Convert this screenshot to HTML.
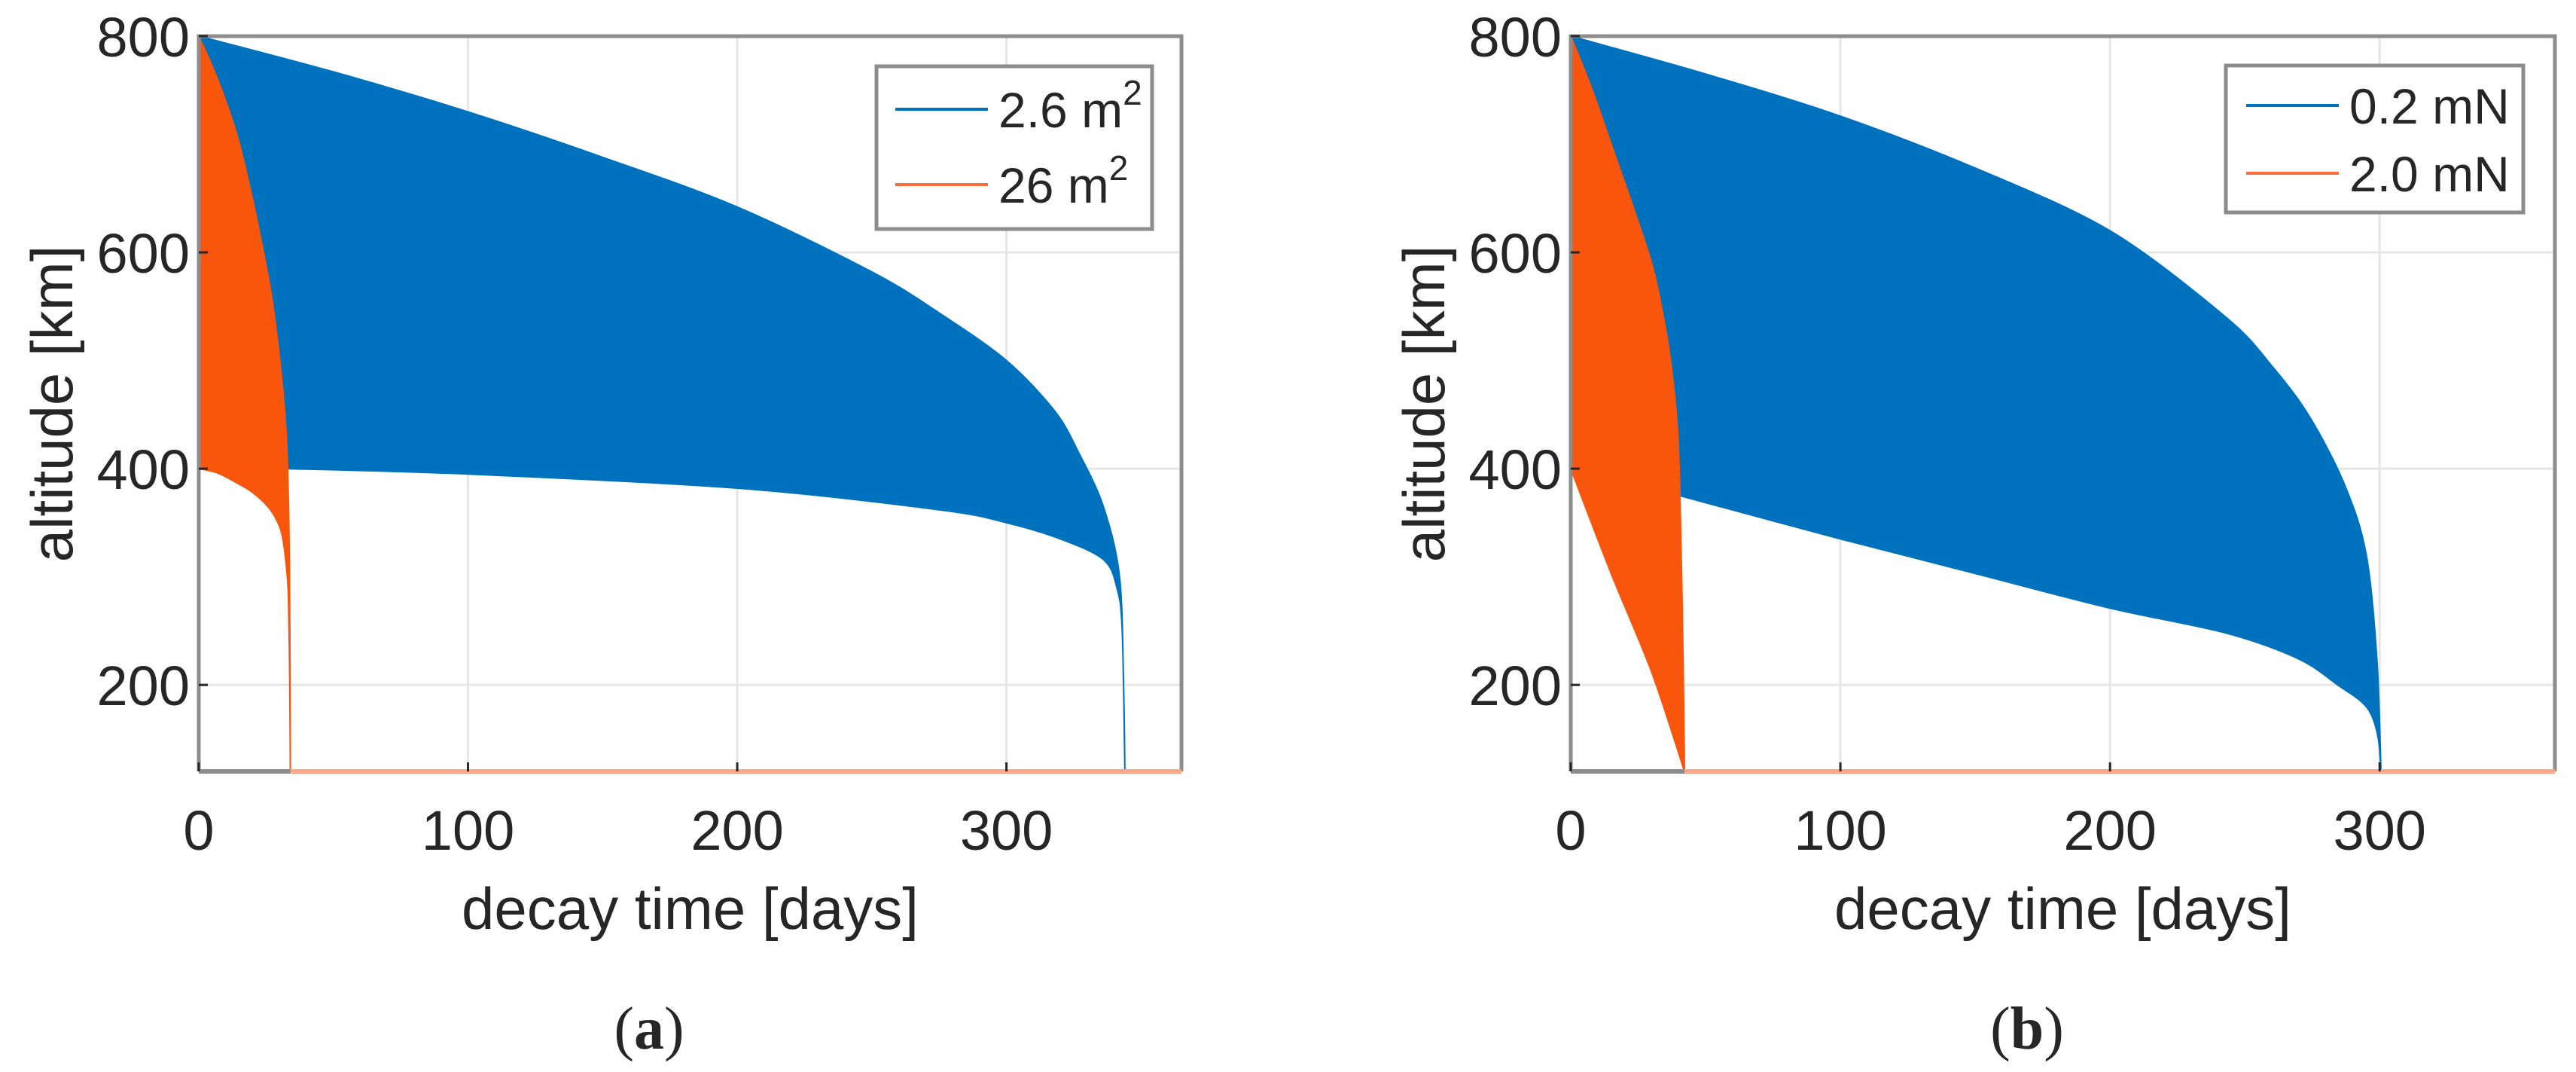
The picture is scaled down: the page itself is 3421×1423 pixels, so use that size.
<!DOCTYPE html>
<html><head><meta charset="utf-8">
<style>
html,body{margin:0;padding:0;background:#fff;}
svg{display:block;}
text{font-family:"Liberation Sans",Arial,sans-serif;fill:#262626;}
</style></head>
<body>
<svg id="fig" width="3421" height="1423" viewBox="0 0 3421 1423" xmlns="http://www.w3.org/2000/svg"></svg>
<script>
// ---- data: panel (a) ----
const xTicks = [0, 100, 200, 300];
const yTicks = [200, 400, 600, 800];
const aBlueUpper = [[0,800],[50,767],[100,730],[150,688],[200,642],[250,582],[275,544],[300,500],[318,453],[327,414],[336,365],[342,300],[343.5,200],[344,120]];
const aBlueLower = [[33,400],[100,395],[200,382],[275,362],[300,350],[320,335],[336,316],[341,290],[343,250],[344,120]];
const aOrangeUpper = [[0,800],[7,760],[14,710],[19,660],[23,613],[27,560],[30,502],[32,450],[33,400],[33.7,300],[34,120]];
const aOrangeLower = [[0,400],[7,396],[14,387],[20,378],[26,364],[29,352],[31,338],[32.5,310],[33.3,280],[33.8,200],[34,120]];
const aLegend = ["2.6 m", "26 m"];
// ---- data: panel (b) ----
const bBlueUpper = [[0,800],[50,765],[100,726],[150,678],[200,620],[243,540],[260,495],[274,448],[287,385],[295,321],[299,223],[300.5,120]];
const bBlueLower = [[40.5,375],[100,335],[150,303],[200,271],[243,248],[270,224],[285,199],[293,185],[297,172],[299.5,150],[300.5,120]];
const bOrangeUpper = [[0,800],[8,750],[15,700],[22,650],[30,590],[34,545],[37,500],[39.5,440],[40.5,375],[41.5,250],[42.2,120]];
const bOrangeLower = [[0,400],[15,303],[30,212],[42.2,120]];
const bLegend = ["0.2 mN", "2.0 mN"];

const NS = "http://www.w3.org/2000/svg";
const svg = document.getElementById('fig');
function mk(tag, attrs, parent){
  const e = document.createElementNS(NS, tag);
  for (const k in attrs) e.setAttribute(k, attrs[k]);
  (parent||svg).appendChild(e);
  return e;
}
const BLUE = "#0072BD", ORANGE = "#F9560D", ORANGE_L = "#FFA688";

// Catmull-Rom smooth segments through pixel points (assumes already at p[0])
function smooth(P){
  let d = '';
  for (let i = 0; i < P.length - 1; i++){
    const p0 = P[Math.max(0, i-1)], p1 = P[i], p2 = P[i+1], p3 = P[Math.min(P.length-1, i+2)];
    const t = 0.16;
    const c1 = [p1[0] + (p2[0]-p0[0])*t, p1[1] + (p2[1]-p0[1])*t];
    const c2 = [p2[0] - (p3[0]-p1[0])*t, p2[1] - (p3[1]-p1[1])*t];
    d += ` C${c1[0].toFixed(1)},${c1[1].toFixed(1)} ${c2[0].toFixed(1)},${c2[1].toFixed(1)} ${p2[0].toFixed(1)},${p2[1].toFixed(1)}`;
  }
  return d;
}

function panel(opt){
  const L = opt.left, R = opt.right, T = 48, B = 1024;
  const X0 = 0, X1 = 365, Y0 = 120, Y1 = 800;
  const sx = v => L + (v - X0) / (X1 - X0) * (R - L);
  const sy = v => B - (v - Y0) / (Y1 - Y0) * (B - T);
  const px = arr => arr.map(p => [sx(p[0]), sy(p[1])]);
  const g = mk('g', {});
  
  
  xTicks.forEach(t => {
    const l = mk('line', {x1:sx(t), x2:sx(t), y1:T, y2:B, stroke:'#e6e6e6', 'stroke-width':3}, g);
    
    
  });
  yTicks.forEach(t => {
    const l = mk('line', {x1:L, x2:R, y1:sy(t), y2:sy(t), stroke:'#e6e6e6', 'stroke-width':3}, g);
    
    
  });
  // blue band
  const bu = px(opt.bu), bl = px(opt.bl).reverse();
  const ouBack = px(opt.ou.filter(p => p[0] <= opt.bl[0][0])).reverse();
  let dB = `M${bu[0][0]},${bu[0][1]}` + smooth(bu) + ` L${bl[0][0]},${bl[0][1]}` + smooth(bl) + ` L${ouBack[0][0]},${ouBack[0][1]}` + smooth(ouBack) + ' Z';
  const bp = mk('path', {d:dB, fill: BLUE, stroke: BLUE, 'stroke-width': 2}, g);
  
  
  // orange band
  const ou = px(opt.ou), ol = px(opt.ol).reverse();
  const dO = `M${ou[0][0]},${ou[0][1]}` + smooth(ou) + ` L${ol[0][0]},${ol[0][1]}` + smooth(ol) + ' Z';
  const op = mk('path', {d:dO, fill: ORANGE, stroke: ORANGE, 'stroke-width': 2}, g);
  
  
  const endX = opt.ou[opt.ou.length - 1][0];
  const box = mk('path', {d:`M${L},${B} L${L},${T} L${R},${T} L${R},${B}`, fill:'none', stroke:'#8c8c8c', 'stroke-width':5}, g);
  
  
  const bx = mk('line', {x1:L, x2:sx(endX), y1:B, y2:B, stroke:'#8c8c8c', 'stroke-width':6}, g);
  
  
  const ob = mk('line', {x1:sx(endX), x2:R, y1:B, y2:B, stroke:ORANGE_L, 'stroke-width':6}, g);
  
  
  xTicks.forEach(t => {
    const tk = mk('line', {x1:sx(t), x2:sx(t), y1:B, y2:B-12, stroke:'#262626', 'stroke-width':3}, g);
    
    
    const tx = mk('text', {x:sx(t), y:1128, 'font-size':74, 'text-anchor':'middle'}, g);
    tx.textContent = t;
    
    
  });
  yTicks.forEach(t => {
    const tk = mk('line', {x1:L, x2:L+12, y1:sy(t), y2:sy(t), stroke:'#262626', 'stroke-width':3}, g);
    
    
    const tx = mk('text', {x:L-12, y:sy(t)+27, 'font-size':74, 'text-anchor':'end'}, g);
    tx.textContent = t;
    
    
  });
  const xl = mk('text', {x:(L+R)/2, y:1233, 'font-size':78, 'text-anchor':'middle'}, g);
  xl.textContent = 'decay time [days]';
  
  
  const yl = mk('text', {x:0, y:0, 'font-size':78, 'text-anchor':'middle', transform:`translate(${L-168},536) rotate(-90)`}, g);
  yl.textContent = 'altitude [km]';
  
  
  const lg = mk('g', {}, g);
  
  
  mk('rect', {x:opt.lg.x, y:opt.lg.y, width:opt.lg.w, height:opt.lg.h, fill:'#fff', stroke:'#8c8c8c', 'stroke-width':5}, lg);
  [BLUE, "#FF6B3D"].forEach((c, i) => {
    const ry = opt.lg.rows[i];
    const ent = mk('g', {}, lg);
    
    
    mk('line', {x1:opt.lg.lx1, x2:opt.lg.lx2, y1:ry, y2:ry, stroke:c, 'stroke-width':4}, ent);
    const tx = mk('text', {x:opt.lg.tx, y:ry+24, 'font-size':66, fill:'#000'}, ent);
    tx.textContent = opt.labels[i];
    if (opt.sup) {
      const s = mk('tspan', {dy:-30, 'font-size':46}, tx);
      s.textContent = '2';
    }
  });
  const cap = mk('text', {x:opt.capX, y:1392, 'font-size':80, 'text-anchor':'middle', style:'font-family:"Liberation Serif",serif', fill:'#000'}, g);
  
  
  const p1 = mk('tspan', {}, cap); p1.textContent = '(';
  const p2 = mk('tspan', {'font-weight':'bold'}, cap); p2.textContent = opt.cap;
  const p3 = mk('tspan', {}, cap); p3.textContent = ')';
}

panel({name:'panel-a', left:264, right:1569, bu:aBlueUpper, bl:aBlueLower, ou:aOrangeUpper, ol:aOrangeLower,
  labels:aLegend, sup:true, cap:'a', capX:862,
  lg:{x:1164, y:88, w:366, h:216, rows:[145,245], lx1:1189, lx2:1312, tx:1326}});
panel({name:'panel-b', left:2086, right:3393, bu:bBlueUpper, bl:bBlueLower, ou:bOrangeUpper, ol:bOrangeLower,
  labels:bLegend, sup:false, cap:'b', capX:2692,
  lg:{x:2956, y:87, w:395, h:195, rows:[140,230], lx1:2983, lx2:3106, tx:3120}});
</script>
</body></html>
